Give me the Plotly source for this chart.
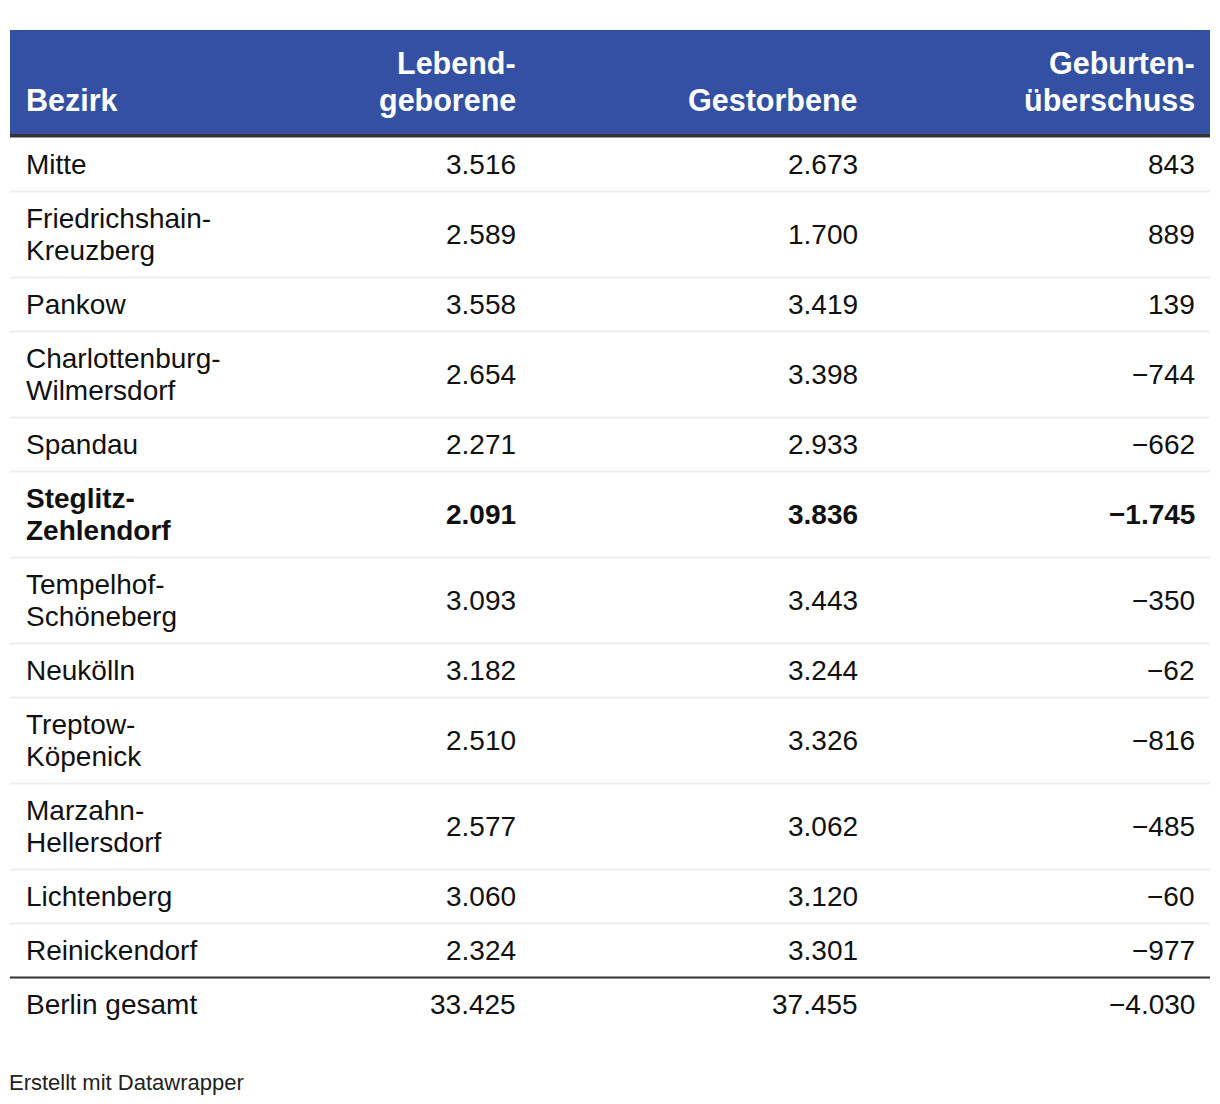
"""
Geburten und Sterbefälle nach Berliner Bezirken (Datawrapper-Tabelle)
"""
import plotly.graph_objects as go

# --- data ---------------------------------------------------------------
bezirke = [
    "Mitte", "Friedrichshain-\nKreuzberg", "Pankow",
    "Charlottenburg-\nWilmersdorf", "Spandau", "Steglitz-\nZehlendorf",
    "Tempelhof-\nSchöneberg", "Neukölln", "Treptow-\nKöpenick",
    "Marzahn-\nHellersdorf", "Lichtenberg", "Reinickendorf",
]
lebendgeborene = [3516, 2589, 3558, 2654, 2271, 2091, 3093, 3182, 2510, 2577, 3060, 2324]
gestorbene = [2673, 1700, 3419, 3398, 2933, 3836, 3443, 3244, 3326, 3062, 3120, 3301]
geburtenueberschuss = [843, 889, 139, -744, -662, -1745, -350, -62, -816, -485, -60, -977]
hervorgehoben = ["Steglitz-\nZehlendorf"]

gesamt_label = "Berlin gesamt"
gesamt_werte = [33425, 37455, -4030]

spalten = ["Bezirk", "Lebend-\ngeborene", "Gestorbene", "Geburten-\nüberschuss"]
footer = "Erstellt mit Datawrapper"

# --- styling ------------------------------------------------------------
W, H = 1220, 1104
FONT = "Liberation Sans, Arial, Helvetica, sans-serif"
HEAD_BG = "#3450a3"
TEXT = "#111111"
BODY_SIZE = 28
HEAD_SIZE = 30.5
TABLE_L, TABLE_R = 10, 1210
HEAD_TOP, HEAD_BOTTOM, HEAD_LINE = 30, 134, 137.5
PAD = 2  # annotations carry a little inner padding
X_LEFT = 27 - PAD
X_RIGHT = [515 + PAD, 857 + PAD, 1194 + PAD]
ROW_H = {1: 54, 2: 86}
LINE_GAP = 32
HEAD_LINE_GAP = 37


def fmt(v):
    s = f"{abs(v):,}".replace(",", ".")
    return ("\u2212" + s) if v < 0 else s


fig = go.Figure()
shapes = []
annotations = []


def add_text(x, yc, text, anchor, size, color, bold=False, gap=LINE_GAP):
    lines = text.split("\n")
    n = len(lines)
    for i, ln in enumerate(lines):
        y = yc + (i - (n - 1) / 2) * gap
        annotations.append(dict(
            x=x, y=y, xref="x", yref="y", text=f"<b>{ln}</b>" if bold else ln,
            showarrow=False, xanchor=anchor, yanchor="middle",
            font=dict(family=FONT, size=size, color=color), borderpad=0,
        ))


# header
shapes.append(dict(type="rect", xref="x", yref="y", x0=TABLE_L, x1=TABLE_R,
                   y0=HEAD_TOP, y1=HEAD_BOTTOM, fillcolor=HEAD_BG, line_width=0,
                   layer="below"))
shapes.append(dict(type="rect", xref="x", yref="y", x0=TABLE_L, x1=TABLE_R,
                   y0=HEAD_BOTTOM, y1=HEAD_LINE, fillcolor="#333333", line_width=0))
head_base = 100
for j, name in enumerate(spalten):
    n = len(name.split("\n"))
    yc = head_base - (n - 1) / 2 * HEAD_LINE_GAP
    if j == 0:
        add_text(X_LEFT, yc, name, "left", HEAD_SIZE, "white", True, HEAD_LINE_GAP)
    else:
        add_text(X_RIGHT[j - 1], yc, name, "right", HEAD_SIZE, "white", True, HEAD_LINE_GAP)

# body rows
y = HEAD_LINE
for i, name in enumerate(bezirke):
    h = ROW_H[len(name.split("\n"))]
    yc = y + h / 2
    bold = name in hervorgehoben
    add_text(X_LEFT, yc, name, "left", BODY_SIZE, TEXT, bold)
    for xr, vals in zip(X_RIGHT, [lebendgeborene, gestorbene, geburtenueberschuss]):
        add_text(xr, yc, fmt(vals[i]), "right", BODY_SIZE, TEXT, bold)
    y += h
    if i < len(bezirke) - 1:
        shapes.append(dict(type="line", xref="x", yref="y", x0=TABLE_L, x1=TABLE_R,
                           y0=y, y1=y, line=dict(color="#eeeeee", width=2)))

# total row
shapes.append(dict(type="line", xref="x", yref="y", x0=TABLE_L, x1=TABLE_R,
                   y0=y, y1=y, line=dict(color="#333333", width=2)))
yc = y + ROW_H[1] / 2
add_text(X_LEFT, yc, gesamt_label, "left", BODY_SIZE, TEXT)
for xr, v in zip(X_RIGHT, gesamt_werte):
    add_text(xr, yc, fmt(v), "right", BODY_SIZE, TEXT)

# footer
add_text(TABLE_L - PAD, 1082, footer, "left", 22, "#222222")

fig.update_layout(
    width=W, height=H,
    margin=dict(l=0, r=0, t=0, b=0),
    paper_bgcolor="white", plot_bgcolor="white",
    xaxis=dict(range=[0, W], visible=False, fixedrange=True),
    yaxis=dict(range=[H, 0], visible=False, fixedrange=True),
    shapes=shapes, annotations=annotations, showlegend=False,
)

fig.write_html(
    "out.html",
    config={"displayModeBar": False},
    post_script="document.body.style.margin='0';document.body.style.overflow='hidden';",
)
